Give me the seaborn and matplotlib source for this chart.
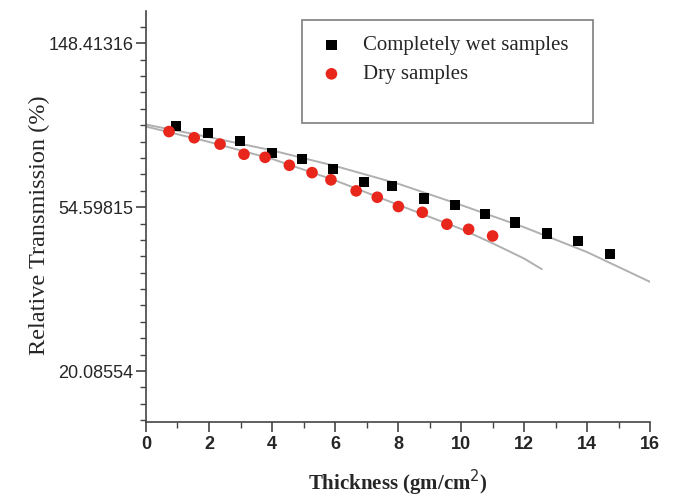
import numpy as np
import pandas as pd
import matplotlib
matplotlib.use('Agg')
import matplotlib.pyplot as plt
import matplotlib.ticker as mticker
from matplotlib.patches import Rectangle
import seaborn as sns

# Measured points (thickness in gm/cm^2, relative transmission in %)
wet_thickness = [0.95, 1.97, 2.98, 4.0, 4.95, 5.94, 6.92, 7.81, 8.83, 9.81, 10.76, 11.71, 12.73, 13.71, 14.73]
wet_transmission = [89.6, 86.0, 81.8, 75.9, 73.1, 68.9, 63.6, 62.1, 57.6, 55.4, 52.3, 49.7, 46.5, 44.4, 41.0]

dry_thickness = [0.73, 1.53, 2.35, 3.11, 3.78, 4.55, 5.27, 5.87, 6.67, 7.34, 8.01, 8.77, 9.55, 10.24, 11.0]
dry_transmission = [86.6, 83.4, 80.2, 75.4, 74.0, 70.5, 67.4, 64.5, 60.3, 58.0, 54.8, 52.9, 49.2, 47.7, 45.8]

# Fitted curves
wet_fit_x = [0, 2, 4, 6, 8, 10, 12, 14, 16]
wet_fit_y = [90.4, 83.7, 77.2, 70.2, 63.0, 55.3, 48.3, 41.5, 34.6]
dry_fit_x = [0, 2, 4, 6, 8, 10, 11, 12, 12.56]
dry_fit_y = [89.3, 81.3, 73.3, 64.3, 55.4, 47.8, 43.8, 39.9, 37.4]

y_ticks = [np.e ** 3, np.e ** 4, np.e ** 5]
y_tick_labels = ['20.08554', '54.59815', '148.41316']

wet = pd.DataFrame({'x': wet_thickness, 'y': wet_transmission})
dry = pd.DataFrame({'x': dry_thickness, 'y': dry_transmission})
wet_fit = pd.DataFrame({'x': wet_fit_x, 'y': wet_fit_y})
dry_fit = pd.DataFrame({'x': dry_fit_x, 'y': dry_fit_y})

sns.set_style('ticks')
plt.rcParams['font.family'] = ['Liberation Sans', 'DejaVu Sans']

fig = plt.figure(figsize=(6.74, 5), dpi=100)
ax = fig.add_axes([0.2166, 0.156, 0.748, 0.822])

sns.lineplot(data=wet_fit, x='x', y='y', ax=ax, color='#b0b0b0', linewidth=1.4, legend=False)
sns.lineplot(data=dry_fit, x='x', y='y', ax=ax, color='#b0b0b0', linewidth=1.4, legend=False)
sns.scatterplot(data=wet, x='x', y='y', ax=ax, marker='s', s=55, color='black',
                edgecolor='none', label='Completely wet samples', zorder=3)
sns.scatterplot(data=dry, x='x', y='y', ax=ax, marker='o', s=70, color='#e8261c',
                edgecolor='none', label='Dry samples', zorder=3)

ax.set_yscale('log', base=np.e)
ax.set_xlim(0, 16)
ax.set_ylim(np.e ** 2.689, np.e ** 5.197)
ax.yaxis.set_major_locator(mticker.FixedLocator(y_ticks))
ax.yaxis.set_major_formatter(mticker.FixedFormatter(y_tick_labels))
minor = [np.e ** v for v in np.arange(2.7, 5.2, 0.1) if abs(v - round(v)) > 0.01]
ax.yaxis.set_minor_locator(mticker.FixedLocator(minor))
ax.yaxis.set_minor_formatter(mticker.NullFormatter())
ax.xaxis.set_major_locator(mticker.MultipleLocator(2))
ax.xaxis.set_minor_locator(mticker.MultipleLocator(1))

sns.despine(ax=ax)
for side in ['left', 'bottom']:
    ax.spines[side].set_color('#444444')
    ax.spines[side].set_linewidth(1.2)
ax.tick_params(which='major', length=7, width=1.2, color='#444444', direction='out')
ax.tick_params(which='minor', length=4, width=1.0, color='#444444', direction='out')
ax.tick_params(axis='y', labelsize=13, pad=2)
ax.tick_params(axis='x', labelsize=13, pad=3)
for lab in ax.get_xticklabels():
    lab.set_fontweight('bold')

ax.set_xlabel('Thickness (gm/cm$^2$)', family='Liberation Serif', fontsize=15,
              fontweight='bold', labelpad=11)
ax.set_ylabel('Relative Transmission (%)', family='Liberation Serif', fontsize=17.5)
ax.yaxis.set_label_coords(-0.19, 0.48)

ax.add_patch(Rectangle((0.3095, 0.7275), 0.5775, 0.2505, transform=ax.transAxes,
                       fill=False, edgecolor='#888888', linewidth=1.3, zorder=4))
leg = ax.legend(loc='upper left', bbox_to_anchor=(0.31, 0.96), frameon=False,
                prop={'family': 'Liberation Serif', 'size': 15}, handletextpad=0.5,
                labelspacing=0.45, borderaxespad=0)

fig.savefig('out.png', dpi=100)
